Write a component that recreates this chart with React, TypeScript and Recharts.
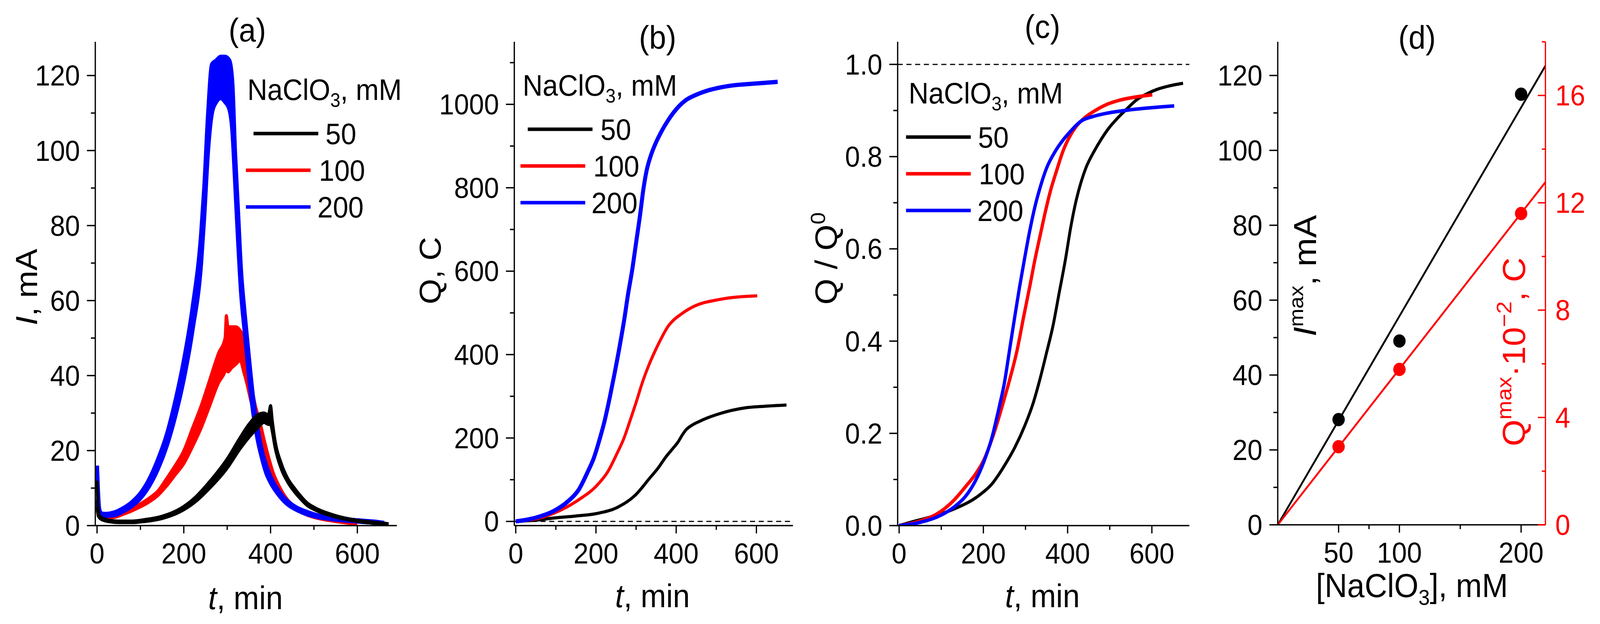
import React from "react";
import { ComposedChart, Line, Area, Scatter, XAxis, YAxis, ReferenceLine } from "recharts";

const FONT = '"Liberation Sans", Arial, sans-serif';
const BLACK = "#000000";
const RED = "#ff0000";
const BLUE = "#0000ff";

// (a) current transients; noisy traces kept as [lower, upper] envelopes
const tA50 = [0, 3, 8, 15, 30, 50, 80, 110, 150, 190, 225, 260, 300, 330, 350, 370, 385, 395, 400, 404, 410, 425, 440, 455, 470, 485, 500, 540, 600, 640, 672];
const lo50 = [5, 2.5, 1.8, 1.4, 1.0, 0.8, 0.8, 1.1, 1.9, 3.6, 6.2, 10, 15.3, 20.5, 23.5, 26, 27.5, 27, 27, 25, 21, 15, 11.5, 9, 7, 5.3, 4.3, 2.6, 1.1, 0.6, 0.2];
const hi50 = [12, 4, 2.3, 1.9, 1.4, 1.2, 1.2, 1.6, 2.5, 4.4, 7.4, 11.8, 17.8, 23.5, 27, 29.5, 30, 29.5, 32, 28, 23, 16.5, 12.5, 10, 7.8, 6, 4.9, 3, 1.4, 0.9, 0.5];

const tA100 = [0, 3, 6, 10, 20, 40, 60, 80, 100, 120, 140, 160, 180, 200, 220, 240, 260, 280, 295, 298, 302, 310, 320, 330, 338, 345, 355, 365, 375, 385, 395, 405, 420, 440, 460, 480, 500, 550, 600];
const lo100 = [6, 4, 2.8, 2.2, 2.0, 2.2, 3.0, 3.9, 5.0, 6.3, 8, 10.5, 13.5, 16.5, 21, 26, 32, 38, 41, 42, 41, 42, 43, 44, 41, 38, 33, 29, 25, 20, 16.5, 13, 9.5, 6, 4.2, 3, 2.2, 1.1, 0.4];
const hi100 = [14, 6, 3.6, 2.8, 2.6, 2.8, 3.6, 4.6, 5.8, 7.3, 9.2, 12.5, 16, 20, 26, 32, 39, 46, 50, 56, 53, 53, 53, 52, 50, 44, 38, 32, 28, 23, 18.5, 14.5, 10.5, 6.8, 4.8, 3.4, 2.6, 1.4, 0.7];

const tA200 = [0, 2, 5, 10, 20, 40, 60, 80, 100, 120, 140, 160, 180, 200, 220, 240, 247, 256, 265, 275, 285, 295, 305, 312, 318, 325, 332, 340, 350, 360, 370, 380, 390, 400, 420, 440, 460, 480, 500, 550, 600, 650, 662];
const lo200 = [7, 5, 3.2, 2.6, 2.6, 2.8, 3.8, 5.2, 7.3, 10.5, 15, 21, 29, 39, 52, 70, 82, 100, 110, 113, 114, 113, 111, 105, 92, 76, 62, 52, 40, 30, 23, 18, 14, 11.5, 8, 5.6, 4.2, 3.2, 2.5, 1.6, 1.1, 0.6, 0.4];
const hi200 = [16, 10, 4.5, 3.2, 3.1, 3.5, 4.6, 6.2, 8.6, 12.3, 17.5, 24, 33, 44, 58, 78, 90, 110, 123, 124, 125, 125, 124, 118, 100, 84, 68, 57, 45, 34, 26, 20, 16, 13, 9, 6.4, 4.8, 3.8, 3, 2, 1.4, 0.9, 0.7];

// (b) charge Q, C
const tQ50 = [0, 50, 93, 150, 202, 252, 297, 335, 355, 373, 390, 405, 415, 424, 440, 456, 480, 507, 570, 620, 675];
const q50 = [0, 3, 8, 13, 19, 33, 62, 105, 128, 153, 173, 191, 207, 219, 231, 239, 249, 258, 272, 276, 279];
const tQ100 = [0, 50, 93, 157, 202, 230, 252, 270, 284, 300, 316, 332, 348, 365, 380, 395, 411, 443, 507, 602];
const q100 = [0, 6, 19, 52, 86, 120, 162, 200, 239, 285, 334, 375, 410, 443, 468, 484, 496, 515, 532, 541];
const tQ200 = [0, 50, 93, 130, 157, 180, 195, 210, 221, 235, 246, 260, 271, 280, 290, 300, 310, 318, 326, 336, 348, 365, 380, 400, 424, 450, 475, 538, 600, 653];
const q200 = [0, 9, 24, 48, 76, 120, 153, 200, 239, 300, 353, 425, 487, 545, 601, 668, 735, 795, 840, 875, 905, 938, 962, 988, 1010, 1023, 1032, 1045, 1050, 1054];

// (c) normalised charge Q / Q0
const tN50 = [0, 30, 68, 128, 189, 220, 250, 275, 298, 318, 335, 350, 365, 380, 395, 407, 419, 432, 444, 462, 480, 498, 516, 540, 565, 590, 613, 640, 674];
const n50 = [0, 0.008, 0.017, 0.035, 0.065, 0.09, 0.13, 0.17, 0.216, 0.265, 0.32, 0.375, 0.432, 0.505, 0.578, 0.645, 0.7, 0.745, 0.777, 0.81, 0.838, 0.862, 0.881, 0.903, 0.924, 0.937, 0.946, 0.953, 0.959];
const tN100 = [0, 50, 98, 130, 159, 180, 201, 225, 250, 265, 280, 295, 310, 322, 335, 347, 359, 374, 389, 404, 419, 440, 462, 490, 522, 560, 601];
const n100 = [0, 0.01, 0.03, 0.055, 0.086, 0.11, 0.142, 0.2, 0.276, 0.325, 0.38, 0.45, 0.518, 0.575, 0.63, 0.68, 0.725, 0.77, 0.812, 0.842, 0.864, 0.884, 0.898, 0.912, 0.922, 0.929, 0.934];
const tN200 = [0, 50, 98, 130, 159, 180, 201, 220, 238, 250, 262, 274, 286, 298, 310, 322, 335, 350, 371, 390, 407, 432, 460, 492, 553, 653];
const n200 = [0, 0.007, 0.022, 0.04, 0.065, 0.095, 0.138, 0.19, 0.259, 0.31, 0.38, 0.45, 0.518, 0.58, 0.639, 0.69, 0.734, 0.775, 0.812, 0.837, 0.855, 0.877, 0.887, 0.894, 0.902, 0.91];

// (d) maxima vs concentration, with linear fits through origin
const conc = [50, 100, 200];
const iMax = [28.1, 49.1, 115.0];
const qMax = [2.91, 5.79, 11.6];
const fitX = [0, 220];
const fitI = [0, 122.6];
const fitQ = [0, 12.77];

// ticks
const timeTicks = [0, 100, 200, 300, 400, 500, 600];
const iTicks = [0, 10, 20, 30, 40, 50, 60, 70, 80, 90, 100, 110, 120];
const qTicks = [0, 100, 200, 300, 400, 500, 600, 700, 800, 900, 1000, 1100];
const nTicks = [0, 0.1, 0.2, 0.3, 0.4, 0.5, 0.6, 0.7, 0.8, 0.9, 1.0];
const concTicks = [50, 75, 100, 150, 200];
const concLabels = [50, 100, 200];
const qmTicks = [0, 2, 4, 6, 8, 10, 12, 14, 16, 18];

type Row = Record<string, any>;

function mergeBands(series: { key: string; t: number[]; lo: number[]; hi: number[] }[]): Row[] {
  const rows = new Map<number, Row>();
  series.forEach((s) =>
    s.t.forEach((t, i) => {
      const row = rows.get(t) ?? { t };
      row[s.key] = [s.lo[i], s.hi[i]];
      rows.set(t, row);
    })
  );
  const out = [...rows.values()].sort((a, b) => a.t - b.t);
  out.forEach((r) => series.forEach((s) => { if (!r[s.key]) r[s.key] = [null, null]; }));
  return out;
}

function mergeLines(series: { key: string; t: number[]; v: number[] }[]): Row[] {
  const rows = new Map<number, Row>();
  series.forEach((s) =>
    s.t.forEach((t, i) => {
      const row = rows.get(t) ?? { t };
      row[s.key] = s.v[i];
      rows.set(t, row);
    })
  );
  return [...rows.values()].sort((a, b) => a.t - b.t);
}

const dataA = mergeBands([
  { key: "b100", t: tA100, lo: lo100, hi: hi100 },
  { key: "b200", t: tA200, lo: lo200, hi: hi200 },
  { key: "b50", t: tA50, lo: lo50, hi: hi50 },
]);
const dataB = mergeLines([
  { key: "q50", t: tQ50, v: q50 },
  { key: "q100", t: tQ100, v: q100 },
  { key: "q200", t: tQ200, v: q200 },
]);
const dataC = mergeLines([
  { key: "n50", t: tN50, v: n50 },
  { key: "n100", t: tN100, v: n100 },
  { key: "n200", t: tN200, v: n200 },
]);
const fitData = fitX.map((x, i) => ({ x, fitI: fitI[i], fitQ: fitQ[i] }));
const ptsI = conc.map((x, i) => ({ x, v: iMax[i] }));
const ptsQ = conc.map((x, i) => ({ x, v: qMax[i] }));

type TickOpts = {
  side: "bottom" | "left" | "right";
  major: (v: number) => boolean;
  fmt?: (v: number) => string;
  color?: string;
};

const makeTick = (o: TickOpts) => (p: any) => {
  const v = p.payload.value as number;
  const isMajor = o.major(v);
  const c = o.color ?? BLACK;
  const label = isMajor ? (o.fmt ? o.fmt(v) : String(v)) : null;
  const txt = { fontSize: 74, fontFamily: FONT, fill: c } as const;
  if (o.side === "bottom") {
    const len = isMajor ? 20 : 11;
    return (
      <g>
        <line x1={p.x} x2={p.x} y1={p.y} y2={p.y + len} stroke={c} strokeWidth={3.5} />
        {label && <text x={p.x} y={p.y + 97} textAnchor="middle" {...txt}>{label}</text>}
      </g>
    );
  }
  if (o.side === "left") {
    const len = isMajor ? 23 : 12;
    return (
      <g>
        <line x1={p.x - len} x2={p.x} y1={p.y} y2={p.y} stroke={c} strokeWidth={3.5} />
        {label && <text x={p.x - 42} y={p.y + 26} textAnchor="end" {...txt}>{label}</text>}
      </g>
    );
  }
  // right axis: ticks point into the plot, labels outside
  const len = isMajor ? 21 : 10;
  return (
    <g>
      <line x1={p.x - len} x2={p.x} y1={p.y} y2={p.y} stroke={c} strokeWidth={3.5} />
      {label && <text x={p.x + 27} y={p.y + 26} textAnchor="start" {...txt}>{label}</text>}
    </g>
  );
};

const axisLine = { stroke: BLACK, strokeWidth: 3.5 };
const timeTick = makeTick({ side: "bottom", major: (v) => v % 200 === 0 });
const noTickLine = { tickLine: false, tickSize: 0, tickMargin: 0, interval: 0 as const };

function bandArea(key: string, color: string, w: number) {
  return (
    <Area
      key={key}
      dataKey={key}
      type="monotone"
      stroke={color}
      strokeWidth={w}
      fill={color}
      fillOpacity={1}
      connectNulls
      dot={false}
      activeDot={false}
      isAnimationActive={false}
    />
  );
}

function curve(key: string, color: string, w: number) {
  return (
    <Line
      key={key}
      dataKey={key}
      type="monotone"
      stroke={color}
      strokeWidth={w}
      dot={false}
      activeDot={false}
      connectNulls
      isAnimationActive={false}
    />
  );
}

function LegendBlock({ x, y, rows }: { x: number; y: number; rows: { dx: number; tdx: number; color: string; label: string }[] }) {
  return (
    <g fontFamily={FONT}>
      <text x={x} y={y} fontSize={76}>
        NaClO<tspan fontSize={50} dy={18}>3</tspan>
        <tspan dy={-18}>, mM</tspan>
      </text>
      {rows.map((r, i) => (
        <g key={r.label}>
          <line x1={x + r.dx} x2={x + r.dx + 178} y1={y + 86 + i * 94} y2={y + 86 + i * 94} stroke={r.color} strokeWidth={9} />
          <text x={x + r.tdx} y={y + 113 + i * 94} fontSize={76}>{r.label}</text>
        </g>
      ))}
    </g>
  );
}

function RotLabel({ x, y, size = 84, color = BLACK, children }: { x: number; y: number; size?: number; color?: string; children: React.ReactNode }) {
  return (
    <text transform={`translate(${x},${y}) rotate(-90)`} textAnchor="middle" fontSize={size} fontFamily={FONT} fill={color}>
      {children}
    </text>
  );
}

function Overlay() {
  const title = { fontSize: 84, fontFamily: FONT, textAnchor: "middle" as const };
  return (
    <svg width={4399} height={1598} style={{ position: "absolute", left: 0, top: 0, pointerEvents: "none" }}>
      <text x={680} y={106} {...title}>(a)</text>
      <text x={1808} y={125} {...title}>(b)</text>
      <text x={2866} y={97} {...title}>(c)</text>
      <text x={3896} y={125} {...title}>(d)</text>

      <LegendBlock
        x={680}
        y={256}
        rows={[
          { dx: 17, tdx: 215, color: BLACK, label: "50" },
          { dx: -4, tdx: 197, color: RED, label: "100" },
          { dx: -4, tdx: 193, color: BLUE, label: "200" },
        ]}
      />
      <LegendBlock
        x={1437}
        y={245}
        rows={[
          { dx: 14, tdx: 214, color: BLACK, label: "50" },
          { dx: -6, tdx: 194, color: RED, label: "100" },
          { dx: -6, tdx: 189, color: BLUE, label: "200" },
        ]}
      />
      <LegendBlock
        x={2498}
        y={265}
        rows={[
          { dx: -7, tdx: 191, color: BLACK, label: "50" },
          { dx: -7, tdx: 193, color: RED, label: "100" },
          { dx: -7, tdx: 189, color: BLUE, label: "200" },
        ]}
      />

      {/* x axis titles */}
      {[675, 1794, 2866].map((cx, i) => (
        <text key={i} x={cx} y={i === 0 ? 1560 : 1555} fontSize={84} fontFamily={FONT} textAnchor="middle">
          <tspan fontStyle="italic">t</tspan>, min
        </text>
      ))}
      <text x={3882} y={1529} fontSize={86} fontFamily={FONT} textAnchor="middle">
        [NaClO<tspan fontSize={56} dy={20}>3</tspan>
        <tspan dy={-20}>], mM</tspan>
      </text>

      {/* y axis titles */}
      <RotLabel x={102} y={735}>
        <tspan fontStyle="italic">I</tspan>, mA
      </RotLabel>
      <RotLabel x={1211} y={693}>Q, C</RotLabel>
      <RotLabel x={2302} y={662} size={86}>
        Q / Q<tspan fontSize={56} dy={-34}>0</tspan>
      </RotLabel>
      <RotLabel x={3618} y={706} size={88}>
        <tspan fontStyle="italic">I</tspan>
        <tspan fontSize={56} dy={-35}>max</tspan>
        <tspan dy={35}>, mA</tspan>
      </RotLabel>
      <RotLabel x={4193} y={901} size={88} color={RED}>
        Q<tspan fontSize={58} dy={-38}>max</tspan>
        <tspan dy={38}>·10</tspan>
        <tspan fontSize={58} dy={-38}>−2</tspan>
        <tspan dy={38}>, C</tspan>
      </RotLabel>
    </svg>
  );
}

const W = 4399;
const H = 1598;

export default function App() {
  // stretch the fixed-size figure onto the CSS viewport the page actually gets
  const vw = typeof window !== "undefined" ? document.documentElement.clientWidth || window.innerWidth : W;
  const vh = typeof window !== "undefined" ? document.documentElement.clientHeight || window.innerHeight : H;
  const sx = Math.min(1, vw / W);
  const sy = Math.min(1, vh / H);
  return (
    <div style={{ position: "fixed", left: 0, top: 0, width: "100vw", height: "100vh", overflow: "hidden", background: "#fff" }}>
      <div
        style={{
          position: "absolute",
          left: 0,
          top: 0,
          width: W,
          height: H,
          background: "#fff",
          transform: `scale(${sx}, ${sy})`,
          transformOrigin: "0 0",
        }}
      >
        {/* (a) */}
        <div style={{ position: "absolute", left: 0, top: 0 }}>
          <ComposedChart width={1101} height={H} data={dataA} margin={{ top: 107, right: 10, bottom: 0, left: 0 }}>
            <XAxis type="number" dataKey="t" domain={[-4, 691]} ticks={timeTicks} allowDataOverflow height={252} axisLine={axisLine} tick={timeTick} {...noTickLine} />
            <YAxis type="number" domain={[0, 129]} ticks={iTicks} allowDataOverflow width={262} axisLine={axisLine} tick={makeTick({ side: "left", major: (v) => v % 20 === 0 })} {...noTickLine} />
            {bandArea("b100", RED, 8)}
            {bandArea("b200", BLUE, 11)}
            {bandArea("b50", BLACK, 8)}
          </ComposedChart>
        </div>

        {/* (b) */}
        <div style={{ position: "absolute", left: 1154, top: 0 }}>
          <ComposedChart width={1036} height={H} data={dataB} margin={{ top: 107, right: 10, bottom: 0, left: 0 }}>
            <XAxis type="number" dataKey="t" domain={[-3.6, 691]} ticks={timeTicks} allowDataOverflow height={252} axisLine={axisLine} tick={timeTick} {...noTickLine} />
            <YAxis type="number" domain={[-10, 1150]} ticks={qTicks} allowDataOverflow width={260} axisLine={axisLine} tick={makeTick({ side: "left", major: (v) => v % 200 === 0 })} {...noTickLine} />
            <ReferenceLine y={0} stroke={BLACK} strokeWidth={3} strokeDasharray="14 10" />
            {curve("q50", BLACK, 8)}
            {curve("q100", RED, 8)}
            {curve("q200", BLUE, 11)}
          </ComposedChart>
        </div>

        {/* (c) */}
        <div style={{ position: "absolute", left: 2208, top: 0 }}>
          <ComposedChart width={1072} height={H} data={dataC} margin={{ top: 107, right: 10, bottom: 0, left: 0 }}>
            <XAxis type="number" dataKey="t" domain={[-3.5, 689]} ticks={timeTicks} allowDataOverflow height={252} axisLine={axisLine} tick={timeTick} {...noTickLine} />
            <YAxis
              type="number"
              domain={[0, 1.049]}
              ticks={nTicks}
              allowDataOverflow
              width={260}
              axisLine={axisLine}
              tick={makeTick({ side: "left", major: (v) => Math.round(v * 10) % 2 === 0, fmt: (v) => v.toFixed(1) })}
              {...noTickLine}
            />
            <ReferenceLine y={1} stroke={BLACK} strokeWidth={3} strokeDasharray="14 10" />
            {curve("n50", BLACK, 8)}
            {curve("n100", RED, 9)}
            {curve("n200", BLUE, 9)}
          </ComposedChart>
        </div>

        {/* (d) */}
        <div style={{ position: "absolute", left: 3253, top: 0 }}>
          <ComposedChart width={1146} height={H} data={fitData} margin={{ top: 107, right: 0, bottom: 0, left: 0 }}>
            <XAxis
              type="number"
              dataKey="x"
              domain={[0, 220]}
              ticks={concTicks}
              allowDataOverflow
              height={254}
              axisLine={axisLine}
              tick={makeTick({ side: "bottom", major: (v) => concLabels.includes(v) })}
              {...noTickLine}
            />
            <YAxis yAxisId="i" type="number" domain={[0, 129]} ticks={iTicks} allowDataOverflow width={260} axisLine={axisLine} tick={makeTick({ side: "left", major: (v) => v % 20 === 0 })} {...noTickLine} />
            <YAxis
              yAxisId="q"
              orientation="right"
              type="number"
              domain={[0, 18]}
              ticks={qmTicks}
              allowDataOverflow
              width={150}
              axisLine={{ stroke: RED, strokeWidth: 3.5 }}
              tick={makeTick({ side: "right", major: (v) => v % 4 === 0, color: RED })}
              {...noTickLine}
            />
            <Line yAxisId="i" dataKey="fitI" type="linear" stroke={BLACK} strokeWidth={5} dot={false} activeDot={false} isAnimationActive={false} />
            <Line yAxisId="q" dataKey="fitQ" type="linear" stroke={RED} strokeWidth={5} dot={false} activeDot={false} isAnimationActive={false} />
            <Scatter yAxisId="i" data={ptsI} dataKey="v" isAnimationActive={false} shape={(p: any) => <circle cx={p.cx} cy={p.cy} r={17} fill={BLACK} />} />
            <Scatter yAxisId="q" data={ptsQ} dataKey="v" isAnimationActive={false} shape={(p: any) => <circle cx={p.cx} cy={p.cy} r={17} fill={RED} />} />
          </ComposedChart>
        </div>

        <Overlay />
      </div>
    </div>
  );
}
